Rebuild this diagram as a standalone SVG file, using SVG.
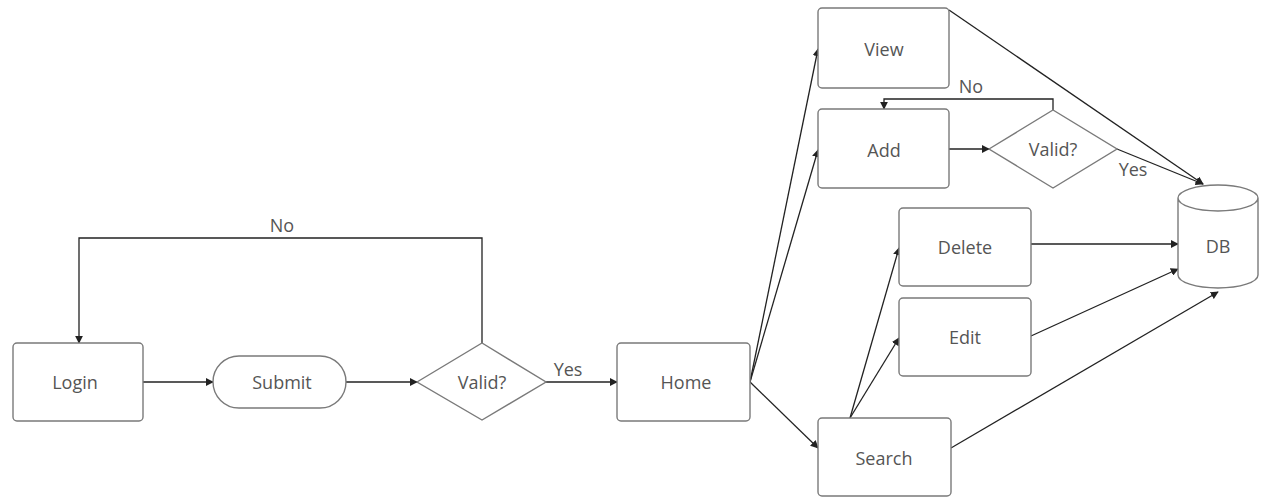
<svg xmlns="http://www.w3.org/2000/svg" width="1261" height="497" viewBox="0 0 1261 497">
<defs>
<marker id="ah" viewBox="0 0 10 10" refX="9" refY="5" markerWidth="8" markerHeight="8" markerUnits="userSpaceOnUse" orient="auto"><path d="M0,0 L10,5 L0,10 z" fill="#222"/></marker>
<style>
.box{fill:#fff;stroke:#7a7a7a;stroke-width:1.4}
.lbl{font-family:"Open Sans","Noto Sans",sans-serif;font-size:18px;fill:#555;text-anchor:middle;dominant-baseline:central}
.edge{fill:none;stroke:#222;stroke-width:1.3}
.ea{marker-end:url(#ah)}
</style>
</defs>
<rect width="1261" height="497" fill="#fff"/>
<g id="connectors">
<path class="edge ea" d="M143,382 L213,382"/>
<path class="edge ea" d="M346,382 L417,382"/>
<path class="edge ea" d="M482,343 L482,238 L79,238 L79,343"/>
<path class="edge ea" d="M546,382 L617,382"/>
<path class="edge ea" d="M750,382 L818,49"/>
<path class="edge ea" d="M750,382 L818,150"/>
<path class="edge ea" d="M750,382 L818,448"/>
<path class="edge ea" d="M949,149 L989,149"/>
<path class="edge ea" d="M1053,110 L1053,99 L884,99 L884,109"/>
<path class="edge ea" d="M949,10 L1203,184"/>
<path class="edge ea" d="M1117,149 L1203,184"/>
<path class="edge ea" d="M850,418 L899,248"/>
<path class="edge ea" d="M850,418 L899,338"/>
<path class="edge ea" d="M1031,244 L1178,244"/>
<path class="edge ea" d="M1031,336 L1178,269"/>
<path class="edge ea" d="M951,448 L1218,292"/>
<text class="lbl" x="282" y="225">No</text>
<text class="lbl" x="568" y="369">Yes</text>
<text class="lbl" x="971" y="86">No</text>
<text class="lbl" x="1133" y="169">Yes</text>
</g>
<g id="login"><rect class="box" x="13" y="343" width="130" height="78" rx="4"/><text class="lbl" x="75" y="382">Login</text></g>
<g id="submit"><rect class="box" x="213" y="356" width="133" height="52" rx="26"/><text class="lbl" x="282" y="382">Submit</text></g>
<g id="valid1"><polygon class="box" points="417,382 482,343 546,382 482,420"/><text class="lbl" x="482" y="382">Valid?</text></g>
<g id="home"><rect class="box" x="617" y="343" width="133" height="78" rx="4"/><text class="lbl" x="686" y="382">Home</text></g>
<g id="view"><rect class="box" x="818" y="8" width="131" height="80" rx="4"/><text class="lbl" x="884" y="49">View</text></g>
<g id="add"><rect class="box" x="818" y="109" width="131" height="79" rx="4"/><text class="lbl" x="884" y="150">Add</text></g>
<g id="valid2"><polygon class="box" points="989,149 1053,110 1117,149 1053,188"/><text class="lbl" x="1053" y="149">Valid?</text></g>
<g id="delete"><rect class="box" x="899" y="208" width="132" height="78" rx="4"/><text class="lbl" x="965" y="247">Delete</text></g>
<g id="edit"><rect class="box" x="899" y="298" width="132" height="78" rx="4"/><text class="lbl" x="965" y="337">Edit</text></g>
<g id="search"><rect class="box" x="818" y="418" width="133" height="78" rx="4"/><text class="lbl" x="884" y="458">Search</text></g>
<g id="db"><path class="box" d="M1178,198 L1178,275 A40,13 0 0 0 1258,275 L1258,198 A40,13 0 0 0 1178,198 A40,13 0 0 0 1258,198"/><text class="lbl" x="1218" y="246">DB</text></g>
</svg>
